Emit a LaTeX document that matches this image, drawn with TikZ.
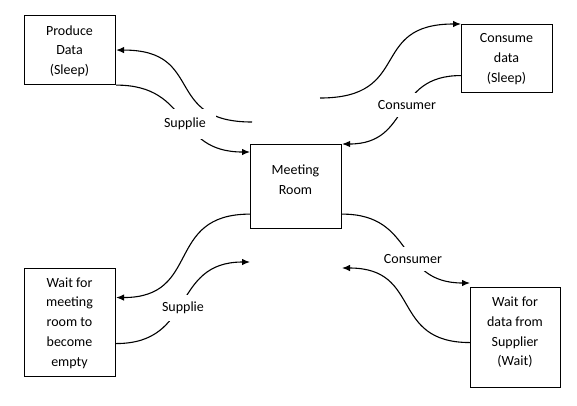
\documentclass[tikz,border=0pt]{standalone}
\usepackage{fontspec}
\setmainfont{Carlito}
\usetikzlibrary{arrows.meta}
\begin{document}
\begin{tikzpicture}[x=1pt,y=-1pt,
  box/.style={draw, line width=1.1pt, minimum width=91pt, inner sep=0pt, anchor=north west},
  txt/.style={align=center, inner sep=0pt, font=\fontsize{14}{19.7}\selectfont},
  lbl/.style={fill=white, inner xsep=8pt, inner ysep=7pt, font=\fontsize{14}{17}\selectfont},
  conn/.style={line width=1.1pt},
  arr/.style={-{Latex[length=8pt,width=6.5pt]}}]
\useasboundingbox (0,0) rectangle (577,405);
% boxes
\node[box, minimum height=69pt] (pd) at (24,15) {};
\node[txt] (pdt) at (69.5,51) {Produce\\Data\\(Sleep)};
\node[box, minimum height=68pt] (cd) at (461,24) {};
\node[txt] (cdt) at (506.5,59) {Consume\\data\\(Sleep)};
\node[box, minimum height=84pt] (mr) at (250,144) {};
\node[txt] (mrt) at (295.5,180) {Meeting\\Room};
\node[box, minimum height=108pt] (wr) at (24,268) {};
\node[txt] (wrt) at (69.5,323) {Wait for\\meeting\\room to\\become\\empty};
\node[box, minimum width=90pt, minimum height=100pt] (wd) at (470,287) {};
\node[txt] (wdt) at (515,332.5) {Wait for\\data from\\Supplier\\(Wait)};
% free ends
\coordinate (c1) at (252,122);
\coordinate (c2) at (320,98);
\coordinate (c3) at (250,262);
\coordinate (c4) at (342,268);
% connectors
\draw[conn,arr] (pd.south east) to[out=0,in=180,looseness=1.3] ([yshift=-8pt]mr.north west);
\draw[conn,arr] (c1) to[out=180,in=0,looseness=1.5] (pd.east);
\draw[conn,arr] (c2) to[out=0,in=180,looseness=1.5] (cd.north west);
\draw[conn,arr] ([yshift=-17pt]cd.west) to[out=180,in=0,looseness=1.3] (mr.north east);
\draw[conn,arr] ([yshift=15pt]mr.south west) to[out=180,in=0,looseness=1.4] ([yshift=25pt]wr.east);
\draw[conn,arr] ([yshift=-21pt]wr.east) to[out=0,in=180,looseness=1.3] (c3);
\draw[conn,arr] ([yshift=15pt]mr.south east) to[out=0,in=180,looseness=1.3] ([yshift=4pt]wd.north west);
\draw[conn,arr] ([yshift=-5pt]wd.west) to[out=180,in=0,looseness=1.4] (c4);
% labels
\node[lbl, inner ysep=9pt, inner xsep=10pt] (s1) at (185,124) {Supplie};
\node[lbl] (s2) at (183,308) {Supplie};
\node[lbl] (k1) at (407,105) {Consumer};
\node[lbl] (k2) at (413,259) {Consumer};
\end{tikzpicture}
\end{document}
